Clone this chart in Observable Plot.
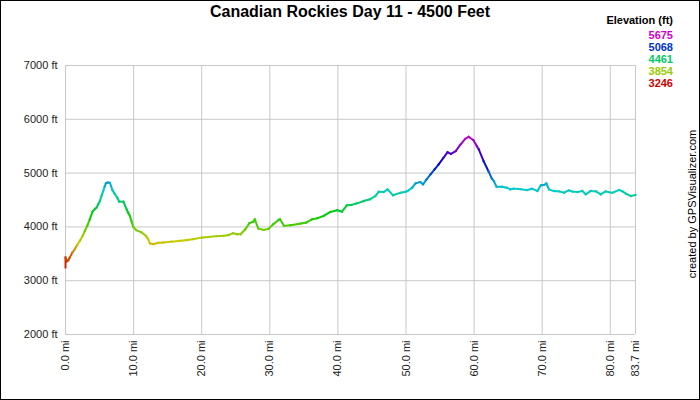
<!DOCTYPE html>
<html>
<head>
<meta charset="utf-8">
<script src="https://cdn.jsdelivr.net/npm/d3@7"></script>
<script src="https://cdn.jsdelivr.net/npm/@observablehq/plot@0.6"></script>
<style>
html, body { margin: 0; padding: 0; background: #fff; }
#chart { position: relative; width: 700px; height: 400px; overflow: hidden; font-family: "Liberation Sans", Arial, sans-serif; color: #000; }
#chart svg { position: absolute; left: 0; top: 0; }
#frame { position: absolute; left: 0; top: 0; width: 700px; height: 400px; box-sizing: border-box; border: 1px solid #000; pointer-events: none; }
#title { position: absolute; top: 3px; left: 0; width: 700px; text-align: center; font-weight: bold; font-size: 16px; }
#legend { position: absolute; right: 27px; top: 14px; text-align: right; font-size: 11px; line-height: 12px; }
#legend .head { font-weight: bold; margin-bottom: 3px; }
#legend .v { font-weight: bold; font-size: 11px; }
#credit { position: absolute; left: 692px; top: 204px; transform: translate(-50%, -50%) rotate(-90deg); white-space: nowrap; font-size: 11px; color: #000; }
</style>
</head>
<body>
<div id="chart">
  <div id="title">Canadian Rockies Day 11 - 4500 Feet</div>
  <div id="legend"><div class="head">Elevation (ft)</div></div>
  <div id="credit">created by GPSVisualizer.com</div>
  <div id="frame"></div>
</div>
<script>
const miles = [0.0,0.0,0.15,0.4,0.63,1.0,1.37,1.7,2.1,2.5,2.84,3.2,3.57,3.97,4.3,4.56,4.8,5.05,5.3,5.54,5.75,5.93,6.2,6.52,6.91,7.2,7.6,7.9,8.5,8.97,9.2,9.46,9.7,9.95,10.4,11.2,11.8,12.1,12.4,12.9,13.6,14.4,15.6,16.8,17.8,18.8,20.0,21.0,22.2,23.2,23.9,24.6,25.2,25.7,26.4,27.0,27.6,27.8,28.3,29.1,29.8,30.5,31.3,31.5,32.1,33.0,34.5,35.3,36.2,37.0,37.9,38.9,39.9,40.6,41.3,42.0,42.8,43.8,44.7,45.5,46.0,46.7,47.3,48.1,49.2,50.0,50.4,50.9,51.4,52.1,52.5,53.0,53.6,54.2,54.8,55.5,56.1,56.6,57.3,58.0,58.7,59.2,59.9,60.4,60.7,61.4,62.1,62.6,62.9,63.3,64.1,64.8,65.3,65.8,66.8,67.8,68.5,69.3,69.8,70.3,70.6,71.0,71.7,72.5,73.2,73.9,74.5,75.2,75.9,76.4,77.1,77.9,78.6,79.3,80.3,81.3,81.8,82.3,83.0,83.7];
const elevation = [3246,3431,3357,3380,3431,3520,3587,3660,3741,3830,3926,4020,4142,4283,4330,4357,4420,4481,4580,4667,4750,4809,4825,4820,4679,4620,4543,4469,4469,4327,4265,4204,4100,4000,3939,3895,3833,3780,3691,3679,3704,3710,3725,3741,3755,3772,3802,3812,3827,3835,3846,3883,3864,3864,3956,4068,4099,4142,3969,3944,3963,4049,4130,4142,4018,4031,4062,4080,4142,4160,4204,4278,4309,4283,4401,4410,4438,4481,4513,4574,4654,4648,4698,4587,4635,4654,4679,4728,4809,4833,4790,4880,4975,5070,5161,5284,5389,5358,5407,5531,5636,5675,5611,5500,5438,5222,5037,4900,4850,4746,4746,4728,4698,4710,4700,4685,4710,4667,4772,4780,4809,4698,4667,4660,4635,4679,4655,4648,4667,4605,4667,4660,4605,4660,4635,4685,4660,4617,4574,4593];
const xTicks = [0,10,20,30,40,50,60,70,80,83.7];
const yTicks = [2000,3000,4000,5000,6000,7000];
const legendValues = [5675,5068,4461,3854,3246];
const colorStops = [3246, 3731.8, 4217.6, 4703.4, 5189.2, 5675];
const colorRange = ["#cc0000","#cccc00","#00cc00","#00cccc","#0000cc","#cc00cc"];

const segments = [];
for (let i = 0; i < miles.length - 1; i++) {
  segments.push({x1: miles[i], y1: elevation[i], x2: miles[i+1], y2: elevation[i+1], e: (elevation[i] + elevation[i+1]) / 2});
}

const plot = Plot.plot({
  width: 700,
  height: 400,
  marginLeft: 65,
  marginRight: 65,
  marginTop: 65,
  marginBottom: 66,
  style: {background: "transparent", fontFamily: "'Liberation Sans', Arial, sans-serif", fontSize: "11px", color: "#222"},
  x: {domain: [0, 83.7]},
  y: {domain: [2000, 7000]},
  color: {type: "linear", domain: colorStops, range: colorRange, interpolate: "rgb"},
  marks: [
    Plot.gridX(xTicks, {stroke: "#c8c8c8", strokeOpacity: 1, strokeWidth: 1}),
    Plot.gridY(yTicks, {stroke: "#c8c8c8", strokeOpacity: 1, strokeWidth: 1}),
    Plot.axisY({ticks: yTicks, tickSize: 0, tickPadding: 8, tickFormat: d => d + " ft", fontSize: 11}),
    Plot.axisX({ticks: xTicks, tickSize: 0, tickPadding: 6, tickRotate: -90, tickFormat: d => d.toFixed(1) + " mi", fontSize: 11}),
    Plot.link(segments, {x1: "x1", y1: "y1", x2: "x2", y2: "y2", stroke: "e", strokeWidth: 2, strokeLinecap: "square"})
  ]
});
document.getElementById("chart").insertBefore(plot, document.getElementById("title"));

const color = plot.scale("color");
const legend = document.getElementById("legend");
for (const v of legendValues) {
  const d = document.createElement("div");
  d.className = "v";
  d.textContent = v;
  d.style.color = color.apply(v);
  legend.appendChild(d);
}
</script>
</body>
</html>
